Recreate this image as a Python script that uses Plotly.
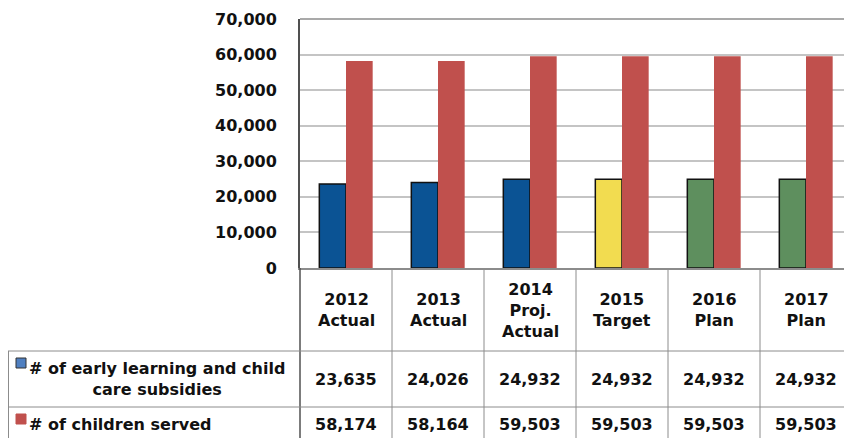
import plotly.graph_objects as go

# ---- data ----
categories = ["2012<br>Actual", "2013<br>Actual", "2014<br>Proj.<br>Actual",
              "2015<br>Target", "2016<br>Plan", "2017<br>Plan"]
subsidies = [23635, 24026, 24932, 24932, 24932, 24932]
children = [58174, 58164, 59503, 59503, 59503, 59503]
series_names = ["# of early learning and child<br>care subsidies", "# of children served"]
subsidy_colors = ["#0B5394", "#0B5394", "#0B5394", "#F2DC50", "#5E8F5E", "#5E8F5E"]
children_color = "#C0504D"
y_ticks = [0, 10000, 20000, 30000, 40000, 50000, 60000, 70000]

W, H = 844, 438
LAYOUT_H = 449      # renders ~11px shorter in the viewer
T = 19
PLOT_LEFT, PLOT_BOTTOM = 300, 268
CAT_W = 92          # px per category; last category is cut by the window edge
FONT = "DejaVu Sans"
GRID = "#C4C4C4"
LINE = "#8C8C8C"
AXIS = "#505050"


def py(pix):
    return (H - pix) / (H - T)


def px(pix):
    return pix / W


xs = list(range(len(categories)))
x_hi = -0.5 + (W - PLOT_LEFT) / CAT_W

fig = go.Figure()
fig.add_trace(go.Bar(x=xs, y=subsidies, name=series_names[0],
                     marker=dict(color=subsidy_colors, line=dict(color="#111111", width=1.5))))
fig.add_trace(go.Bar(x=xs, y=children, name=series_names[1],
                     marker=dict(color=children_color, line=dict(width=0))))

shapes = []
# table grid
for i in range(1, len(categories)):
    shapes.append(dict(type="line", xref="x", yref="paper", x0=i - 0.5, x1=i - 0.5,
                       y0=py(268), y1=0, line=dict(color=LINE, width=1)))
shapes.append(dict(type="line", xref="paper", yref="paper", x0=px(PLOT_LEFT), x1=px(PLOT_LEFT),
                   y0=py(268), y1=0, line=dict(color=AXIS, width=1.5)))
for yy in [351, 407]:
    shapes.append(dict(type="line", xref="paper", yref="paper", x0=px(8), x1=1,
                       y0=py(yy), y1=py(yy), line=dict(color=LINE, width=1)))
shapes.append(dict(type="line", xref="paper", yref="paper", x0=px(8.5), x1=px(8.5),
                   y0=py(351), y1=0, line=dict(color=LINE, width=1)))
# plot frame top
shapes.append(dict(type="line", xref="paper", yref="paper", x0=px(PLOT_LEFT), x1=1,
                   y0=1, y1=1, line=dict(color=LINE, width=1.5)))
# legend keys
for (yc, col) in [(363, "#4F7FC0"), (419, "#C0504D")]:
    shapes.append(dict(type="rect", xref="paper", yref="paper", x0=px(16), x1=px(26),
                       y0=py(yc + 5), y1=py(yc - 5), fillcolor=col,
                       line=dict(color="#333333" if col == "#4F7FC0" else col, width=1)))

annotations = []
tf = dict(family=FONT, size=16, color="#111111", weight="bold")
for i, c in enumerate(categories):
    annotations.append(dict(x=i, y=py(310), xref="x", yref="paper", text=c, showarrow=False,
                            font=tf, align="center", xanchor="center", yanchor="middle"))
    annotations.append(dict(x=i, y=py(379), xref="x", yref="paper", text=f"{subsidies[i]:,}",
                            showarrow=False, font=tf, xanchor="center", yanchor="middle"))
    annotations.append(dict(x=i, y=py(424), xref="x", yref="paper", text=f"{children[i]:,}",
                            showarrow=False, font=tf, xanchor="center", yanchor="middle"))
annotations.append(dict(x=px(27), y=py(379), xref="paper", yref="paper", text=series_names[0],
                        showarrow=False, font=tf, align="center", xanchor="left", yanchor="middle"))
annotations.append(dict(x=px(27), y=py(424), xref="paper", yref="paper", text=series_names[1],
                        showarrow=False, font=tf, align="left", xanchor="left", yanchor="middle"))

fig.update_layout(
    width=W, height=LAYOUT_H,
    margin=dict(l=0, r=0, t=T, b=LAYOUT_H - H),
    paper_bgcolor="white", plot_bgcolor="white",
    barmode="group", bargap=0.42, bargroupgap=0,
    showlegend=False,
    xaxis=dict(domain=[px(PLOT_LEFT), 1], range=[-0.5, x_hi],
               showticklabels=False, showgrid=False, zeroline=False,
               showline=True, linecolor=LINE, linewidth=1.5, fixedrange=True),
    yaxis=dict(domain=[py(PLOT_BOTTOM), 1], range=[0, 70000], tickvals=y_ticks,
               tickformat=",", showgrid=True, gridcolor=GRID, gridwidth=1.5,
               zeroline=False, showline=True, linecolor=AXIS, linewidth=2,
               ticks="", ticklabelstandoff=18,
               tickfont=dict(family=FONT, size=16, color="#111111", weight="bold")),
    shapes=shapes, annotations=annotations,
)

fig.write_html("out.html", config={"displayModeBar": False},
               post_script="document.body.style.margin='0px';"
                           "document.body.style.overflow='hidden';")
